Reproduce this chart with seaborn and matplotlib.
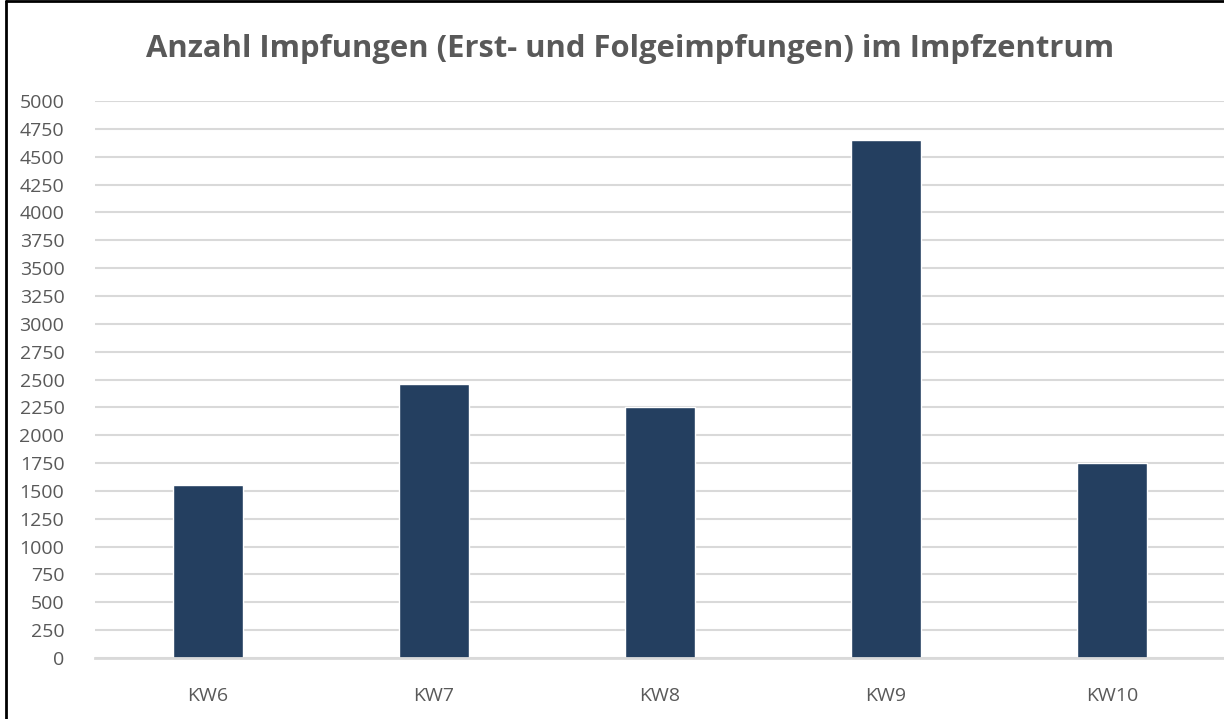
import matplotlib.pyplot as plt
import seaborn as sns
import pandas as pd
from matplotlib.lines import Line2D

# Impfungen pro Kalenderwoche
weeks = ["KW6", "KW7", "KW8", "KW9", "KW10"]
vaccinations = [1550, 2460, 2255, 4650, 1750]
yticks = list(range(0, 5001, 250))

df = pd.DataFrame({"Woche": weeks, "Impfungen": vaccinations})

sns.set_style("white")
plt.rcParams['font.family'] = ['Open Sans', 'DejaVu Sans']

fig = plt.figure(figsize=(12.24, 7.19), dpi=100)
ax = fig.add_axes([0.0776, 0.0848, 0.9232, 0.7747])

sns.barplot(data=df, x="Woche", y="Impfungen", color="#243F60", width=0.31,
            saturation=1, ax=ax)

ax.set_xlim(-0.5, 4.5)
ax.set_ylim(0, 5000)
ax.set_yticks(yticks)
ax.set_yticklabels([str(t) for t in yticks])
ax.yaxis.grid(True, color="#D9D9D9", linewidth=1.5)
ax.set_axisbelow(True)
for s in ["top", "right", "left"]:
    ax.spines[s].set_visible(False)
ax.spines["bottom"].set_color("#D9D9D9")
ax.spines["bottom"].set_linewidth(2)
ax.tick_params(axis="both", length=0, colors="#595959", labelsize=14)
ax.tick_params(axis="y", pad=22)
ax.tick_params(axis="x", pad=21)
ax.set_xlabel("")
ax.set_ylabel("")

fig.text(0.515, 0.932, "Anzahl Impfungen (Erst- und Folgeimpfungen) im Impfzentrum",
         ha="center", va="center", fontsize=22.3, fontweight="bold", color="#595959")

# Rahmen um das Diagramm
fig.add_artist(Line2D([0.0049, 0.0049], [0, 0.998], color="black", linewidth=2,
                      transform=fig.transFigure))
fig.add_artist(Line2D([0.0049, 1.0], [0.998, 0.998], color="black", linewidth=2,
                      transform=fig.transFigure))

fig.savefig("out.png", dpi=100)
